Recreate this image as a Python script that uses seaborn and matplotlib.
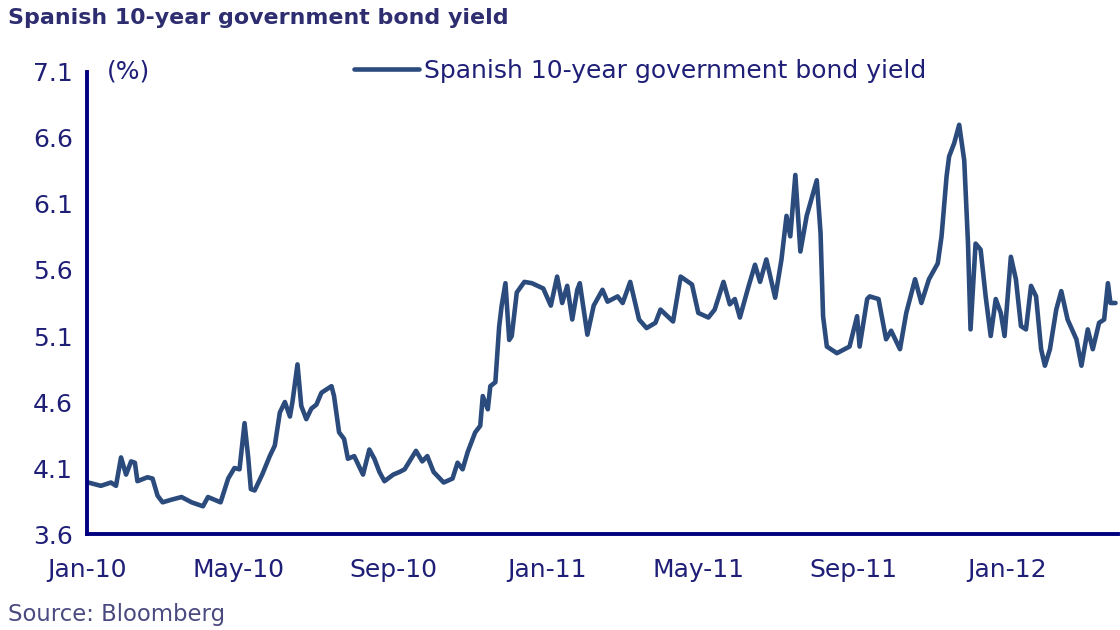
import matplotlib
matplotlib.use("Agg")
import matplotlib.pyplot as plt
import matplotlib.dates as mdates
import seaborn as sns
import pandas as pd

# ---- data ----
dates = [
    "2010-01-02", "2010-01-12", "2010-01-20", "2010-01-24", "2010-01-28", "2010-02-01",
    "2010-02-05", "2010-02-08", "2010-02-10", "2010-02-18", "2010-02-22", "2010-02-26",
    "2010-03-02", "2010-03-09", "2010-03-17", "2010-03-25", "2010-04-03", "2010-04-07",
    "2010-04-17", "2010-04-23", "2010-04-28", "2010-05-02", "2010-05-06", "2010-05-09",
    "2010-05-11", "2010-05-14", "2010-05-20", "2010-05-26", "2010-05-30", "2010-06-03",
    "2010-06-07", "2010-06-11", "2010-06-13", "2010-06-17", "2010-06-20", "2010-06-24",
    "2010-06-28", "2010-07-02", "2010-07-06", "2010-07-14", "2010-07-16", "2010-07-20",
    "2010-07-24", "2010-07-27", "2010-08-01", "2010-08-08", "2010-08-13", "2010-08-17",
    "2010-08-21", "2010-08-25", "2010-09-01", "2010-09-06", "2010-09-10", "2010-09-19",
    "2010-09-24", "2010-09-28", "2010-10-03", "2010-10-11", "2010-10-18", "2010-10-22",
    "2010-10-26", "2010-10-30", "2010-11-05", "2010-11-09", "2010-11-11", "2010-11-15",
    "2010-11-17", "2010-11-21", "2010-11-24", "2010-11-26", "2010-11-29", "2010-12-02",
    "2010-12-04", "2010-12-08", "2010-12-14", "2010-12-20", "2010-12-29", "2011-01-04",
    "2011-01-09", "2011-01-13", "2011-01-17", "2011-01-21", "2011-01-25", "2011-01-27",
    "2011-02-02", "2011-02-07", "2011-02-14", "2011-02-18", "2011-02-26", "2011-03-02",
    "2011-03-08", "2011-03-15", "2011-03-21", "2011-03-28", "2011-04-01", "2011-04-11",
    "2011-04-17", "2011-04-26", "2011-05-01", "2011-05-09", "2011-05-14", "2011-05-21",
    "2011-05-26", "2011-05-30", "2011-06-03", "2011-06-10", "2011-06-15", "2011-06-19",
    "2011-06-24", "2011-07-01", "2011-07-06", "2011-07-10", "2011-07-13", "2011-07-17",
    "2011-07-21", "2011-07-26", "2011-08-03", "2011-08-06", "2011-08-08", "2011-08-11",
    "2011-08-19", "2011-08-29", "2011-09-04", "2011-09-06", "2011-09-12", "2011-09-14",
    "2011-09-21", "2011-09-25", "2011-09-27", "2011-10-01", "2011-10-08", "2011-10-13",
    "2011-10-20", "2011-10-25", "2011-10-31", "2011-11-07", "2011-11-10", "2011-11-14",
    "2011-11-16", "2011-11-20", "2011-11-24", "2011-11-28", "2011-12-01", "2011-12-03",
    "2011-12-07", "2011-12-11", "2011-12-15", "2011-12-19", "2011-12-23", "2011-12-27",
    "2011-12-30", "2012-01-04", "2012-01-08", "2012-01-12", "2012-01-16", "2012-01-20",
    "2012-01-24", "2012-01-28", "2012-01-31", "2012-02-04", "2012-02-09", "2012-02-13",
    "2012-02-18", "2012-02-25", "2012-02-29", "2012-03-05", "2012-03-09", "2012-03-14",
    "2012-03-18", "2012-03-21", "2012-03-23", "2012-03-27",
]
yields = [
    3.99, 3.965, 3.99, 3.965, 4.18, 4.05,
    4.15, 4.14, 4.00, 4.03, 4.02, 3.89,
    3.84, 3.86, 3.88, 3.84, 3.81, 3.88,
    3.84, 4.02, 4.10, 4.09, 4.44, 4.17,
    3.94, 3.93, 4.05, 4.19, 4.27, 4.52,
    4.60, 4.49, 4.60, 4.885, 4.57, 4.47,
    4.55, 4.58, 4.67, 4.72, 4.645, 4.37,
    4.32, 4.17, 4.19, 4.05, 4.24, 4.17,
    4.07, 4.00, 4.05, 4.07, 4.09, 4.23,
    4.15, 4.19, 4.07, 3.99, 4.02, 4.14,
    4.09, 4.22, 4.37, 4.42, 4.645, 4.545,
    4.72, 4.75, 5.17, 5.33, 5.50, 5.07,
    5.10, 5.43, 5.51, 5.50, 5.46, 5.33,
    5.55, 5.35, 5.48, 5.225, 5.45, 5.50,
    5.11, 5.33, 5.45, 5.36, 5.40, 5.35,
    5.51, 5.225, 5.16, 5.20, 5.30, 5.21,
    5.55, 5.49, 5.275, 5.24, 5.30, 5.51,
    5.34, 5.38, 5.24, 5.48, 5.64, 5.51,
    5.68, 5.39, 5.68, 6.01, 5.855, 6.32,
    5.74, 6.01, 6.28, 5.88, 5.25, 5.02,
    4.97, 5.02, 5.25, 5.02, 5.38, 5.40,
    5.38, 5.175, 5.075, 5.14, 5.00, 5.275,
    5.53, 5.35, 5.53, 5.65, 5.855, 6.31,
    6.46, 6.56, 6.70, 6.43, 5.80, 5.15,
    5.80, 5.755, 5.40, 5.10, 5.38, 5.275,
    5.10, 5.70, 5.53, 5.175, 5.15, 5.48,
    5.40, 5.00, 4.875, 5.00, 5.30, 5.44,
    5.225, 5.075, 4.875, 5.15, 5.00, 5.20,
    5.225, 5.50, 5.35, 5.35,
]
series_name = "Spanish 10-year government bond yield"
title_text = "Spanish 10-year government bond yield"
y_ticks = [3.6, 4.1, 4.6, 5.1, 5.6, 6.1, 6.6, 7.1]
x_tick_dates = ["2010-01-01", "2010-05-01", "2010-09-01", "2011-01-01",
                "2011-05-01", "2011-09-01", "2012-01-01"]
x_start, x_end = "2010-01-01", "2012-03-29"
source_text = "Source: Bloomberg"
unit_text = "(%)"

df = pd.DataFrame({"date": pd.to_datetime(dates), "value": yields, "series": series_name})

# ---- style ----
sns.set_style("white")
plt.rcParams["font.family"] = ["DejaVu Sans"]
navy = "#000080"
label_col = "#1f1f78"
line_col = "#2b4b7d"

fig = plt.figure(figsize=(11.2, 6.3), dpi=100)
ax = fig.add_axes([87 / 1120, 1 - 534 / 630, (1118 - 87) / 1120, (534 - 72) / 630])

sns.lineplot(data=df, x="date", y="value", ax=ax, color=line_col, linewidth=3.3,
             label=series_name, legend=False)

ax.set_xlim(pd.Timestamp(x_start), pd.Timestamp(x_end))
ax.set_ylim(y_ticks[0], y_ticks[-1])
ax.set_yticks(y_ticks)
ax.set_yticklabels([f"{t:.1f}" for t in y_ticks])
ax.set_xticks(pd.to_datetime(x_tick_dates))
ax.xaxis.set_major_formatter(mdates.DateFormatter("%b-%y"))
ax.set_xlabel("")
ax.set_ylabel("")

for side in ["top", "right"]:
    ax.spines[side].set_visible(False)
for side in ["left", "bottom"]:
    ax.spines[side].set_color(navy)
    ax.spines[side].set_linewidth(2.8)

ax.tick_params(axis="both", colors=navy, labelcolor=label_col, labelsize=18,
               direction="out", length=5, width=1.5)
ax.tick_params(axis="x", pad=12)
ax.tick_params(axis="y", pad=5)

# legend
handle = ax.get_lines()[0]
leg = ax.legend([handle], [series_name], loc="center left",
                bbox_to_anchor=(354 / 1120, 1 - 71 / 630), bbox_transform=fig.transFigure,
                frameon=False, fontsize=18, handlelength=2.6, handletextpad=0.2,
                borderpad=0, borderaxespad=0)
for t in leg.get_texts():
    t.set_color(label_col)

# texts
fig.text(8 / 1120, 1 - 18 / 630, title_text, fontsize=15.9, fontweight="bold",
         color="#2d2d70", ha="left", va="center")
fig.text(107 / 1120, 1 - 71 / 630, unit_text, fontsize=18, color=label_col,
         ha="left", va="center")
fig.text(8 / 1120, 1 - 614 / 630, source_text, fontsize=16.4, color="#4a4a80",
         ha="left", va="center")

fig.savefig("out.png", dpi=100)
